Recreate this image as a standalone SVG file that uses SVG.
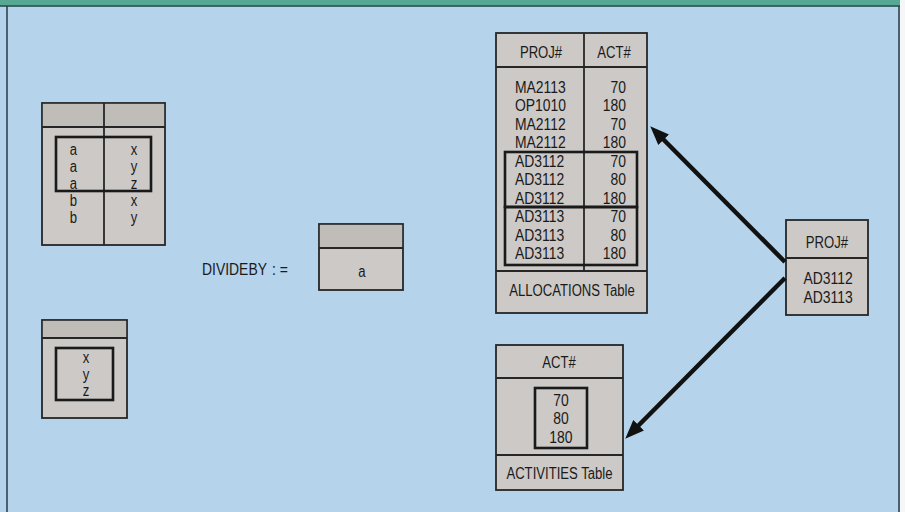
<svg xmlns="http://www.w3.org/2000/svg" width="905" height="512" viewBox="0 0 905 512">
<style>
.bg{fill:#b5d3ea}
.tbl{fill:#ccc9c6;stroke:#262626;stroke-width:1.8}
.hdr{fill:#c0bdb9}
.ln{stroke:#262626;stroke-width:1.8;fill:none}
.grp{fill:none;stroke:#1a1a1a;stroke-width:2.6}
text{font-family:"Liberation Sans",Arial,sans-serif;fill:#1a1a1a;font-size:17px}
.c{text-anchor:middle}
.r{text-anchor:end}
.h{font-size:16px}
.l{font-size:16px}
.arrow{stroke:#111;stroke-width:4.5;fill:none}
</style>
<defs>
<marker id="ah" markerUnits="userSpaceOnUse" markerWidth="20" markerHeight="16" refX="8" refY="7.5" orient="auto">
<path d="M0,0 L19,7.5 L0,15 z" fill="#111"/>
</marker>
</defs>
<rect class="bg" x="0" y="0" width="905" height="512"/>
<rect x="0" y="0" width="905" height="5.5" fill="#56a894"/>
<line x1="0" y1="6" x2="900" y2="6" stroke="#1d4544" stroke-width="1.5"/>
<line x1="7" y1="6" x2="7" y2="512" stroke="#2d3a44" stroke-width="1.5"/>
<line x1="899" y1="6" x2="899" y2="512" stroke="#2d3a44" stroke-width="1.5"/>
<rect x="900" y="0" width="5" height="512" fill="#f4f6f8"/>

<g id="table-ab">
<rect class="tbl" x="42" y="103" width="123" height="142"/>
<rect class="hdr" x="42.9" y="103.9" width="121.2" height="23"/>
<line class="ln" x1="42" y1="127" x2="165" y2="127"/>
<line class="ln" x1="104" y1="103" x2="104" y2="245"/>
<rect class="grp" x="56" y="137" width="95" height="54"/>
<g transform="scale(0.82,1)">
<text class="c l" x="89.6" y="155">a</text><text class="c l" x="163.4" y="155">x</text>
<text class="c l" x="89.6" y="172">a</text><text class="c l" x="163.4" y="172">y</text>
<text class="c l" x="89.6" y="189">a</text><text class="c l" x="163.4" y="189">z</text>
<text class="c l" x="89.6" y="206">b</text><text class="c l" x="163.4" y="206">x</text>
<text class="c l" x="89.6" y="223">b</text><text class="c l" x="163.4" y="223">y</text>
</g>
</g>

<g id="table-xyz">
<rect class="tbl" x="42" y="320" width="85" height="98"/>
<rect class="hdr" x="42.9" y="320.9" width="83.2" height="17"/>
<line class="ln" x1="42" y1="338" x2="127" y2="338"/>
<rect class="grp" x="56" y="348" width="57" height="52"/>
<g transform="scale(0.82,1)">
<text class="c l" x="104.9" y="363">x</text>
<text class="c l" x="104.9" y="380">y</text>
<text class="c l" x="104.9" y="396">z</text>
</g>
</g>

<g id="divideby-label">
<g transform="scale(0.82,1)">
<text x="246.3" y="275" font-size="16">DIVIDEBY <tspan x="331.7">: =</tspan></text>
</g>
</g>

<g id="table-a">
<rect class="tbl" x="319" y="224" width="84" height="66"/>
<rect class="hdr" x="319.9" y="224.9" width="82.2" height="23"/>
<line class="ln" x1="319" y1="248" x2="403" y2="248"/>
<g transform="scale(0.82,1)">
<text class="c l" x="441.5" y="277">a</text>
</g>
</g>

<g id="allocations-table">
<rect class="tbl" x="496" y="33" width="151" height="280"/>
<line class="ln" x1="496" y1="67" x2="647" y2="67"/>
<line class="ln" x1="584" y1="33" x2="584" y2="271"/>
<line class="ln" x1="496" y1="271" x2="647" y2="271"/>
<rect class="grp" x="505" y="152" width="132" height="55"/>
<rect class="grp" x="505" y="207" width="132" height="58"/>
<g transform="scale(0.82,1)">
<text class="c h" x="659.8" y="58">PROJ#</text>
<text class="c h" x="748.8" y="58">ACT#</text>
<text x="628" y="93">MA2113</text><text class="r" x="763.4" y="93">70</text>
<text x="628" y="111.5">OP1010</text><text class="r" x="763.4" y="111.5">180</text>
<text x="628" y="130">MA2112</text><text class="r" x="763.4" y="130">70</text>
<text x="628" y="148.5">MA2112</text><text class="r" x="763.4" y="148.5">180</text>
<text x="628" y="167">AD3112</text><text class="r" x="763.4" y="167">70</text>
<text x="628" y="185.5">AD3112</text><text class="r" x="763.4" y="185.5">80</text>
<text x="628" y="204">AD3112</text><text class="r" x="763.4" y="204">180</text>
<text x="628" y="222.5">AD3113</text><text class="r" x="763.4" y="222.5">70</text>
<text x="628" y="241">AD3113</text><text class="r" x="763.4" y="241">80</text>
<text x="628" y="259.5">AD3113</text><text class="r" x="763.4" y="259.5">180</text>
<text class="c h" x="697.6" y="296">ALLOCATIONS Table</text>
</g>
</g>

<g id="activities-table">
<rect class="tbl" x="496" y="345" width="127" height="145"/>
<line class="ln" x1="496" y1="378" x2="623" y2="378"/>
<line class="ln" x1="496" y1="455" x2="623" y2="455"/>
<rect class="grp" x="535" y="388" width="52" height="60"/>
<g transform="scale(0.82,1)">
<text class="c h" x="681.7" y="368">ACT#</text>
<text class="c" x="684.1" y="406">70</text>
<text class="c" x="684.1" y="424">80</text>
<text class="c" x="684.1" y="443">180</text>
<text class="c h" x="682.3" y="479">ACTIVITIES Table</text>
</g>
</g>

<g id="result-table">
<rect class="tbl" x="786" y="220" width="82" height="95"/>
<line class="ln" x1="786" y1="258" x2="868" y2="258"/>
<g transform="scale(0.82,1)">
<text class="c h" x="1008.5" y="248">PROJ#</text>
<text class="c" x="1009.8" y="284">AD3112</text>
<text class="c" x="1009.8" y="303">AD3113</text>
</g>
</g>

<g id="connectors">
<line class="arrow" x1="785" y1="262" x2="658" y2="134" marker-end="url(#ah)"/>
<line class="arrow" x1="785" y1="278" x2="633" y2="431" marker-end="url(#ah)"/>
</g>
</svg>
